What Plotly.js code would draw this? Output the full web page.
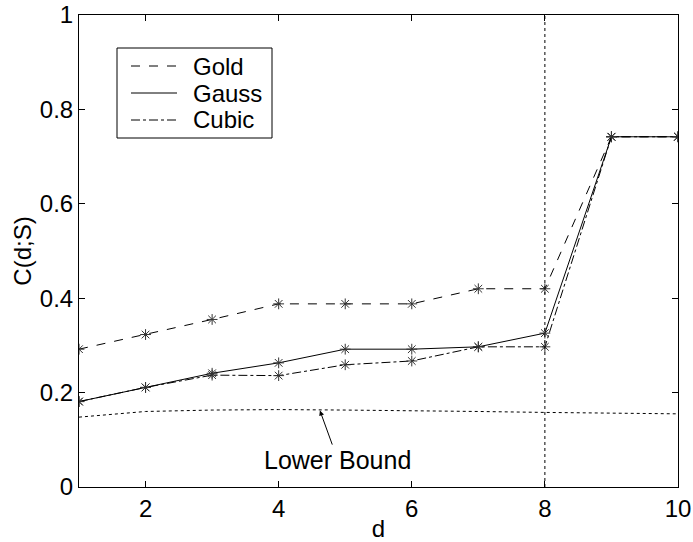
<!DOCTYPE html>
<html>
<head>
<meta charset="utf-8">
<script src="https://cdn.plot.ly/plotly-3.0.1.min.js"></script>
<style>html,body{margin:0;padding:0;background:#fff;}#chart{width:693px;height:542px;}</style>
</head>
<body>
<div id="chart"></div>
<script>
const dValues = [1, 2, 3, 4, 5, 6, 7, 8, 9, 10];
const goldValues = [0.292, 0.323, 0.355, 0.388, 0.388, 0.388, 0.420, 0.420, 0.742, 0.742];
const gaussValues = [0.181, 0.211, 0.241, 0.263, 0.292, 0.292, 0.297, 0.326, 0.742, 0.742];
const cubicValues = [0.181, 0.211, 0.237, 0.236, 0.259, 0.267, 0.297, 0.297, 0.742, 0.742];
const lowerBoundValues = [0.148, 0.160, 0.163, 0.164, 0.163, 0.162, 0.160, 0.158, 0.156, 0.155];
const markerLineX = [8, 8];
const markerLineY = [0, 1];
const xTickValues = [2, 4, 6, 8, 10];
const yTickValues = [0, 0.2, 0.4, 0.6, 0.8, 1];
const seriesNames = ["Gold", "Gauss", "Cubic"];

const FONT = "Liberation Sans, Arial, Helvetica, sans-serif";
const FS = 24;
const seriesData = [goldValues, gaussValues, cubicValues];
const dashes = ["dash", "solid", "dashdot"];

// plot area in pixels
const M = {l: 79, r: 15, t: 15, b: 55};
const W = 693, H = 542;
const PW = W - M.l - M.r, PH = H - M.t - M.b;
const px = v => (v - M.l) / PW;
const py = v => 1 - (v - M.t) / PH;

const traces = [];
seriesData.forEach((vals, i) => {
  traces.push({
    x: dValues, y: vals, type: "scatter", mode: "lines+markers", name: seriesNames[i],
    line: {color: "#000", width: 1, dash: dashes[i]}, showlegend: false,
    marker: {symbol: "asterisk-open", size: 9, color: "#333", line: {color: "#333", width: 1}}
  });
});
traces.push({
  x: dValues, y: lowerBoundValues, type: "scatter", mode: "lines", showlegend: false,
  line: {color: "#000", width: 1, dash: "dot"}
});
traces.push({
  x: markerLineX, y: markerLineY, type: "scatter", mode: "lines", showlegend: false,
  line: {color: "#000", width: 1, dash: "dot"}
});

const axisCommon = {
  showline: true, linecolor: "#000", linewidth: 1, mirror: "ticks",
  ticks: "inside", ticklen: 6, tickcolor: "#000", tickwidth: 1,
  showgrid: false, zeroline: false,
  tickfont: {family: FONT, size: FS, color: "#000"}
};

// manual legend box (MATLAB style)
const legBox = {x0: 117, x1: 272, y0: 48, y1: 138};
const legRows = [66, 93, 120];
const legLine = {x0: 131, x1: 177};
const legTextX = 191;

const shapes = [{
  type: "rect", xref: "paper", yref: "paper",
  x0: px(legBox.x0), x1: px(legBox.x1), y0: py(legBox.y1), y1: py(legBox.y0),
  line: {color: "#000", width: 1}, fillcolor: "#fff", layer: "above"
}];
const annotations = [];
seriesNames.forEach((name, i) => {
  shapes.push({
    type: "line", xref: "paper", yref: "paper",
    x0: px(legLine.x0), x1: px(legLine.x1), y0: py(legRows[i]), y1: py(legRows[i]),
    line: {color: "#000", width: 1, dash: dashes[i]}, layer: "above"
  });
  annotations.push({
    xref: "paper", yref: "paper", x: px(legTextX), y: py(legRows[i]),
    xanchor: "left", yanchor: "middle", showarrow: false, text: name,
    font: {family: FONT, size: FS, color: "#000"}
  });
});
annotations.push({
  x: 4.62, y: 0.162, xref: "x", yref: "y",
  ax: 4.89, ay: 0.057, axref: "x", ayref: "y",
  text: "Lower Bound", showarrow: true, arrowhead: 2, arrowsize: 1, arrowwidth: 1,
  arrowcolor: "#000", font: {family: FONT, size: 25, color: "#000"}
});

const layout = {
  width: W, height: H,
  margin: M,
  paper_bgcolor: "#fff", plot_bgcolor: "#fff",
  font: {family: FONT, size: FS, color: "#000"},
  showlegend: false,
  xaxis: Object.assign({}, axisCommon, {
    range: [1, 10], tickvals: xTickValues,
    title: {text: "d", font: {family: FONT, size: FS, color: "#000"}, standoff: 13}
  }),
  yaxis: Object.assign({}, axisCommon, {
    range: [0, 1], tickvals: yTickValues,
    title: {text: "C(d;S)", font: {family: FONT, size: FS, color: "#000"}, standoff: 1}
  }),
  shapes: shapes,
  annotations: annotations
};

Plotly.newPlot("chart", traces, layout, {displayModeBar: false, staticPlot: true});
</script>
</body>
</html>
